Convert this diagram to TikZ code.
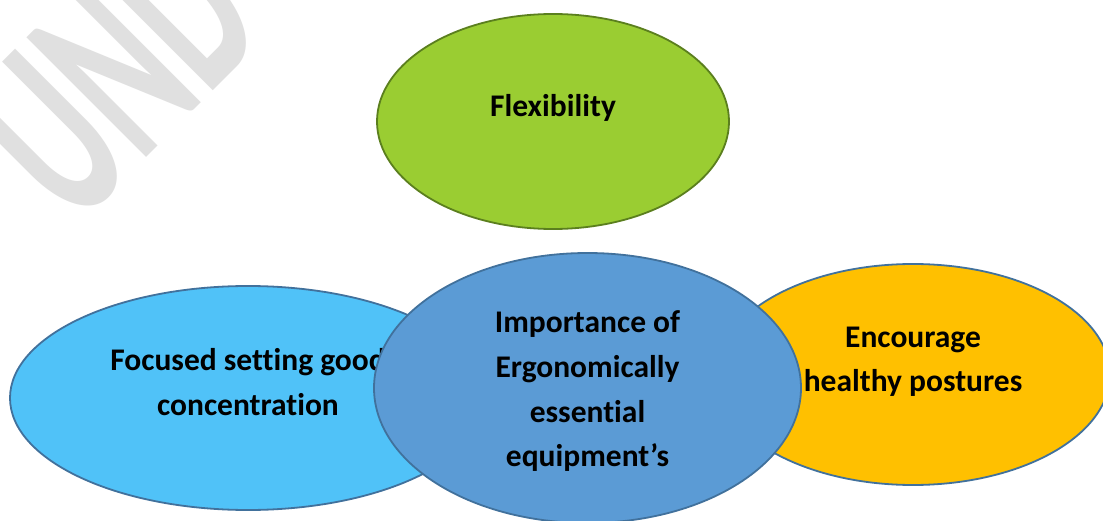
\documentclass[tikz,border=0pt]{standalone}
\usepackage{fontspec}
\setmainfont{Carlito}[Ligatures=NoCommon]
\usetikzlibrary{shapes.geometric}
\definecolor{wmgray}{HTML}{E0E0E0}
\definecolor{greenfill}{HTML}{9ACD32}
\definecolor{greenline}{HTML}{5B7F1E}
\definecolor{skyfill}{HTML}{50C2F8}
\definecolor{bluefill}{HTML}{5B9BD5}
\definecolor{orangefill}{HTML}{FFC000}
\definecolor{blueline}{HTML}{41719C}
\begin{document}
\begin{tikzpicture}[x=1pt,y=-1pt,
  blob/.style={ellipse, draw=blueline, line width=1.8pt, inner sep=0pt},
  lbl/.style={font=\fontsize{31.5}{44.7}\selectfont\bfseries, align=center, anchor=base, inner sep=0pt, text=black},
  wm/.style={font=\fontsize{261}{261}\selectfont\bfseries, text=wmgray, anchor=base, inner sep=0pt}]
\useasboundingbox[fill=white] (0,0) rectangle (1103,521);
% watermark
\node[wm, rotate=45, xscale=0.55] (water) at (173,131) {UND};
% ellipses
\node[blob, draw=greenline, fill=greenfill, minimum width=352pt, minimum height=215pt] (flex) at (553,121.5) {};
\node[lbl] (flext) at (553,117) {Flexibility};
\node[blob, fill=skyfill, minimum width=476pt, minimum height=224pt] (focus) at (248,398) {};
\node[lbl] (focust) at (248,415) {Focused setting good\\concentration};
\node[blob, fill=orangefill, minimum width=394pt, minimum height=221pt] (enc) at (913,374.5) {};
\node[lbl] (enct) at (913,391.7) {Encourage\\healthy postures};
\node[blob, fill=bluefill, minimum width=427pt, minimum height=270pt] (imp) at (587.5,388) {};
\node[lbl] (impt) at (587.5,466.7) {Importance of\\Ergonomically\\essential\\equipment’s};
\end{tikzpicture}
\end{document}
